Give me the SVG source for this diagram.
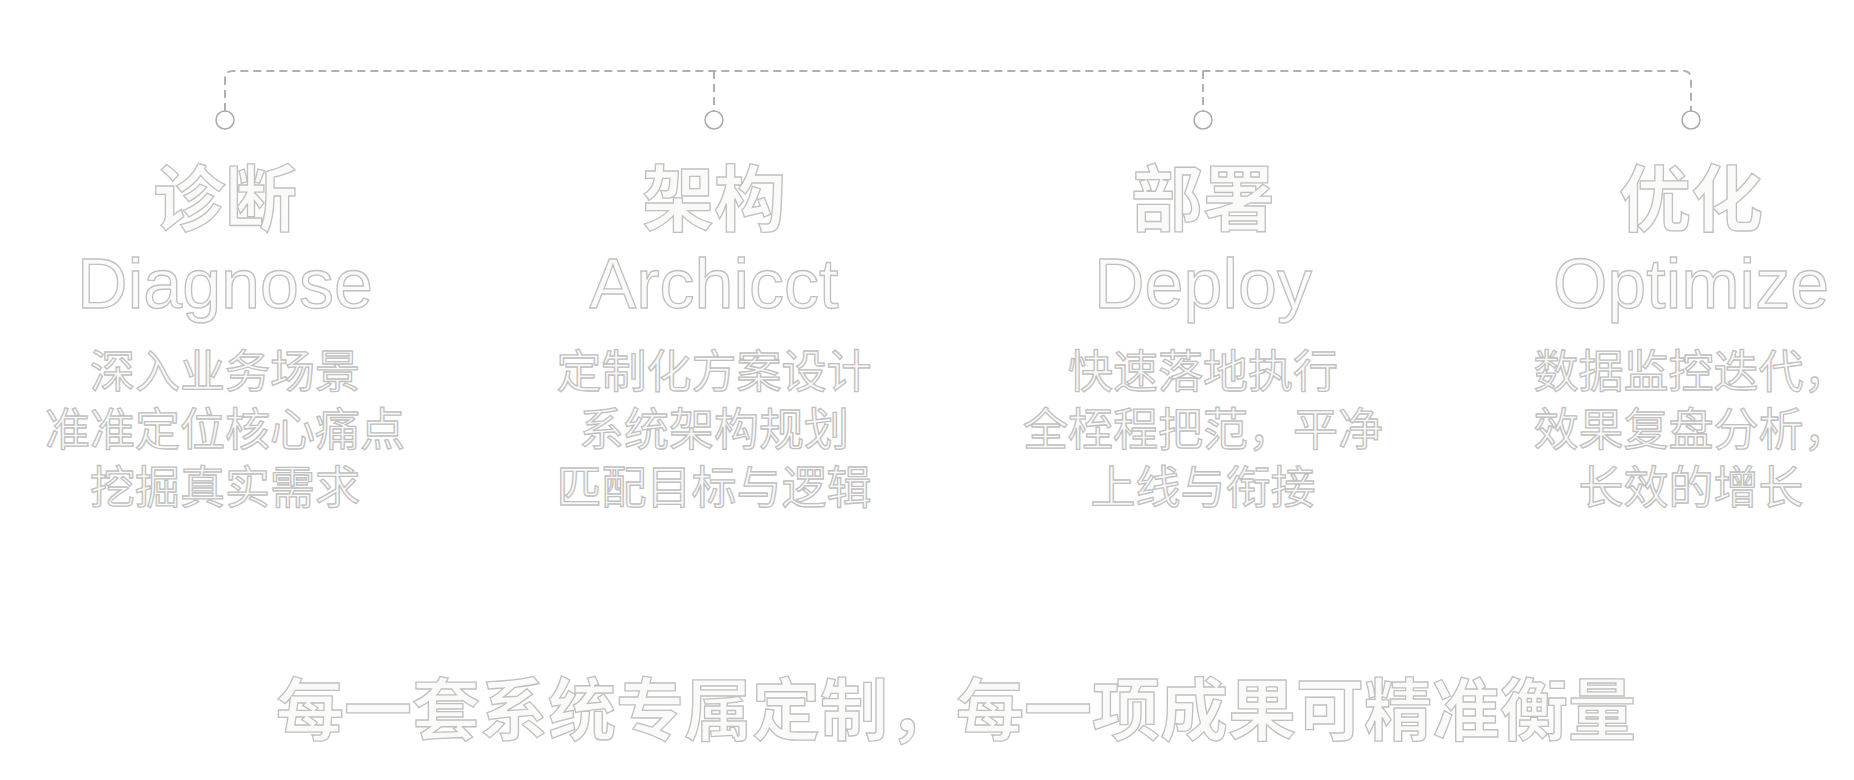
<svg xmlns="http://www.w3.org/2000/svg" width="1854" height="780" viewBox="0 0 1854 780">
<style>
.t{fill:#fafaf8;stroke:#c0c0c0;stroke-width:1.3;text-anchor:middle;font-family:"Noto Sans CJK SC","Liberation Sans",sans-serif}
.h{font-size:72px;font-weight:700}
.e{font-size:70px;font-family:"Liberation Sans","Noto Sans",sans-serif}
.b{font-size:45px;font-weight:400}
.f{font-size:68px;font-weight:700}
.c{fill:#fff;stroke:#aaa;stroke-width:1.5}
.d{fill:none;stroke:#b0b0b0;stroke-width:2;stroke-dasharray:8 5}
</style>
<rect width="1854" height="780" fill="#fff"/>
<g id="connectors">
<path class="d" d="M225 111 V79 Q225 71 233 71 H1683 Q1691 71 1691 79 V111"/>
<path class="d" d="M714 71 V111 M1203 71 V111"/>
</g>
<g id="n1"><circle class="c" cx="225" cy="120" r="9"/>
<text class="t h" x="225" y="225">诊断</text>
<text class="t e" x="225" y="308">Diagnose</text>
<text class="t b" x="225" y="388">深入业务场景</text>
<text class="t b" x="225" y="446">准准定位核心痛点</text>
<text class="t b" x="225" y="504">挖掘真实需求</text></g>
<g id="n2"><circle class="c" cx="714" cy="120" r="9"/>
<text class="t h" x="714" y="225">架构</text>
<text class="t e" x="714" y="308">Archicct</text>
<text class="t b" x="714" y="388">定制化方案设计</text>
<text class="t b" x="714" y="446">系统架构规划</text>
<text class="t b" x="714" y="504">匹配目标与逻辑</text></g>
<g id="n3"><circle class="c" cx="1203" cy="120" r="9"/>
<text class="t h" x="1203" y="225">部署</text>
<text class="t e" x="1203" y="308">Deploy</text>
<text class="t b" x="1203" y="388">快速落地执行</text>
<text class="t b" x="1203" y="446">全桎程把范，平净</text>
<text class="t b" x="1203" y="504">上线与衔接</text></g>
<g id="n4"><circle class="c" cx="1691" cy="120" r="9"/>
<text class="t h" x="1691" y="225">优化</text>
<text class="t e" x="1691" y="308">Optimize</text>
<text class="t b" x="1691" y="388">数据监控迭代，</text>
<text class="t b" x="1691" y="446">效果复盘分析，</text>
<text class="t b" x="1691" y="504">长效的增长</text></g>
<g id="footer"><text class="t f" x="956" y="735">每一套系统专属定制，每一项成果可精准衡量</text></g>
</svg>
